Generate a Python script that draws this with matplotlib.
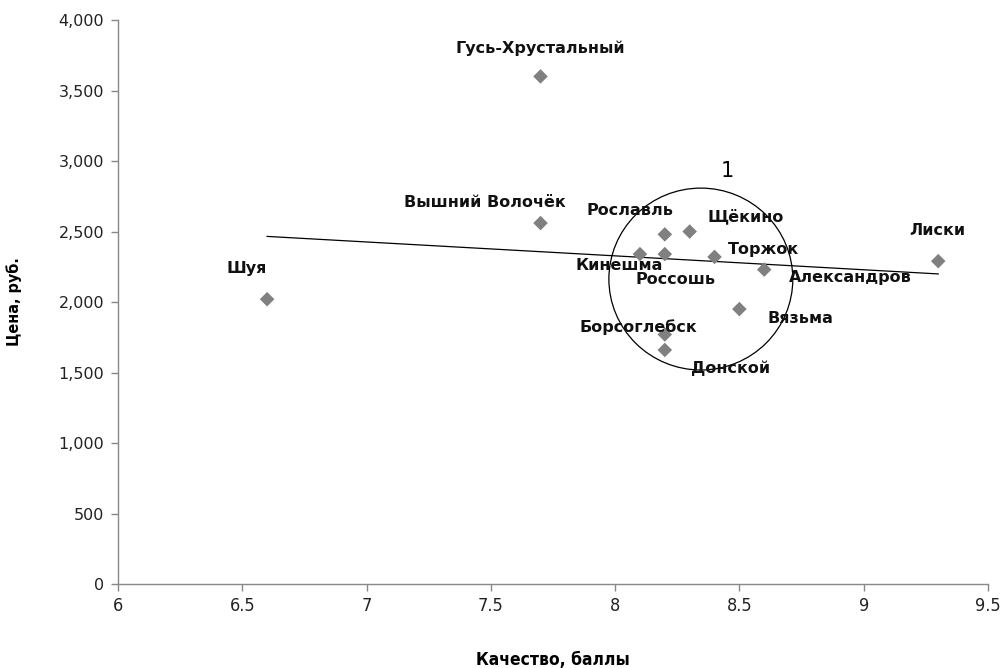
import numpy as np
import matplotlib
matplotlib.use("Agg")
import matplotlib.pyplot as plt
from matplotlib.patches import Ellipse
from matplotlib.ticker import FuncFormatter, MultipleLocator

# Cities: quality score vs. price
cities = ["Шуя", "Гусь-Хрустальный", "Вышний Волочёк", "Рославль", "Щёкино",
          "Кинешма", "Россошь", "Торжок", "Александров", "Лиски",
          "Вязьма", "Борсоглебск", "Донской"]
quality = [6.6, 7.7, 7.7, 8.2, 8.3, 8.1, 8.2, 8.4, 8.6, 9.3, 8.5, 8.2, 8.2]
price = [2020, 3600, 2560, 2480, 2500, 2340, 2340, 2320, 2230, 2290, 1950, 1770, 1660]

# label offsets in points (dx, dy) relative to each marker
label_offsets = [(-15, 22), (0, 20), (-40, 15), (-25, 17), (40, 11),
                 (-15, -8), (8, -18), (35, 5), (62, -6), (-1, 22),
                 (44, -7), (-19, 5), (47, -13)]

plt.rcParams["font.family"] = ["DejaVu Sans"]

fig = plt.figure(figsize=(10.04, 6.68), dpi=100)
ax = fig.add_axes([0.1175, 0.1257, 0.8665, 0.8443])

ax.scatter(quality, price, marker="D", s=55, color="#808080", edgecolor="none", zorder=3)

# linear trend over the observed range
k, b = np.polyfit(quality, price, 1)
xs = np.array([min(quality), max(quality)])
ax.plot(xs, k * xs + b, color="black", lw=0.9, zorder=2)

for name, x, y, (dx, dy) in zip(cities, quality, price, label_offsets):
    ax.annotate(name, (x, y), xytext=(dx, dy), textcoords="offset points",
                ha="center", va="center", fontsize=11.5, fontweight="bold",
                color="#111111", zorder=4)

# highlighted cluster
ax.add_patch(Ellipse((8.345, 2163), 0.74, 1290, fill=False, ec="black", lw=0.9, zorder=2))
ax.text(8.45, 2930, "1", fontsize=15, ha="center", va="center", color="black")

ax.set_xlim(6, 9.5)
ax.set_ylim(0, 4000)
ax.xaxis.set_major_locator(MultipleLocator(0.5))
ax.yaxis.set_major_locator(MultipleLocator(500))
ax.xaxis.set_major_formatter(FuncFormatter(lambda v, _: f"{v:g}"))
ax.yaxis.set_major_formatter(FuncFormatter(lambda v, _: f"{int(v):,}"))

for side in ("top", "right"):
    ax.spines[side].set_visible(False)
for side in ("left", "bottom"):
    ax.spines[side].set_color("#888888")
    ax.spines[side].set_linewidth(1.0)
ax.tick_params(axis="both", colors="#888888", length=5, width=1.0, labelcolor="#222222")
ax.tick_params(axis="x", labelsize=13, pad=4)
ax.tick_params(axis="y", labelsize=11.5, pad=5)
for lbl in ax.get_xticklabels():
    lbl.set_stretch("condensed")

ax.set_xlabel("Качество, баллы", fontsize=12.5, fontweight="bold",
              stretch="condensed", labelpad=26)
ax.set_ylabel("Цена, руб.", fontsize=11.5, fontweight="bold",
              stretch="condensed", labelpad=26)

fig.savefig("out.png", dpi=100, facecolor="white")
